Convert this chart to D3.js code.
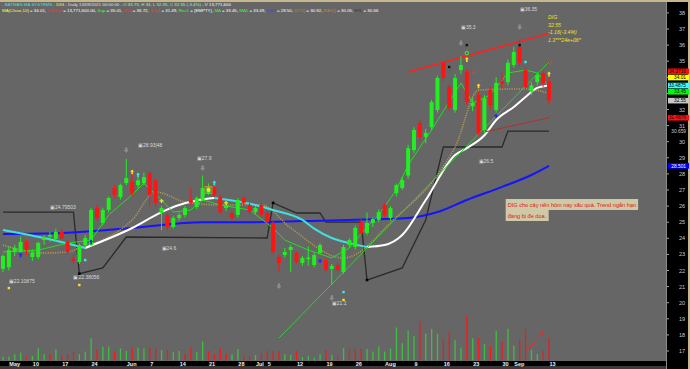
<!DOCTYPE html>
<html>
<head>
<meta charset="utf-8">
<script src="https://cdn.jsdelivr.net/npm/d3@7"></script>
<style>
  body { margin: 0; background: #000; }
  svg { display: block; font-family: "Liberation Sans", Arial, sans-serif; }
</style>
</head>
<body>
<svg id="chart" width="690" height="369"></svg>
<script>
// trading days shown on the chart (dd/mm, 2021)
const dates = ["29/04","04/05","05/05","06/05","07/05","10/05","11/05","12/05","13/05","14/05",
  "17/05","18/05","19/05","20/05","21/05","24/05","25/05","26/05","27/05","28/05","31/05",
  "01/06","02/06","03/06","04/06","07/06","08/06","09/06","10/06","11/06","14/06","15/06","16/06","17/06","18/06",
  "21/06","22/06","23/06","24/06","25/06","28/06","29/06","30/06",
  "01/07","02/07","05/07","06/07","07/07","08/07","09/07","12/07","13/07","14/07","15/07","16/07",
  "19/07","20/07","21/07","22/07","23/07","26/07","27/07","28/07","29/07","30/07",
  "02/08","03/08","04/08","05/08","06/08","09/08","10/08","11/08","12/08","13/08",
  "16/08","17/08","18/08","19/08","20/08","23/08","24/08","25/08","26/08","27/08","30/08","31/08",
  "01/09","06/09","07/09","08/09","09/09","10/09","13/09"];

const opens = [22.1,22.2,23.15,23.15,23.77,22.84,22.84,23.89,24.1,23.96,
  24.4,23.77,22.75,22.53,23.58,23.58,25.88,24.95,25.76,27.12,26.56,
  27.43,27.5,27.3,27.43,28.05,27.6,25.57,25.45,24.7,25.26,25.45,26.4,25.95,26.38,
  26.8,27.1,26.56,25.88,25.57,25.45,26.5,26.07,
  25.63,26.07,25.57,24.95,22.84,22.96,23.27,23.09,22.47,22.7,22.34,23.09,
  22.65,22.1,22.34,21.9,23.58,23.46,25.0,24.33,24.95,25.14,
  26.07,25.26,26.8,27.12,27.9,29.48,31.16,30.3,30.9,31.97,
  34.89,33.4,31.97,34.45,34.33,32.2,32.9,30.73,33.2,31.97,33.75,33.7,
  34.76,35.88,34.45,33.1,33.7,34.26,33.75];
const highs = [23.0,23.5,23.6,24.1,23.9,23.3,23.8,24.2,24.4,24.6,
  24.6,23.9,23.0,23.7,24.2,25.9,26.07,25.9,26.6,27.3,27.4,
  28.93,28.1,27.8,28.1,28.2,27.7,26.0,25.6,25.4,25.6,26.0,27.1,26.6,27.9,
  27.4,27.3,26.7,26.2,25.7,26.5,26.6,26.2,
  26.0,26.2,25.7,25.1,23.0,23.4,23.6,23.2,22.9,23.5,23.1,23.7,
  22.8,22.4,22.5,23.6,24.0,24.8,25.2,25.6,25.3,25.8,
  26.2,26.0,27.4,27.8,29.8,30.9,31.4,30.8,32.6,34.1,
  35.0,33.6,34.2,35.3,34.5,32.7,33.1,32.9,33.4,34.0,34.3,35.1,
  35.9,36.35,34.6,33.7,34.3,34.4,34.0];
const lows = [21.9,22.0,22.9,23.0,22.96,22.6,22.7,23.6,23.8,23.8,
  23.9,23.0,22.4,22.4,23.4,23.5,25.1,24.8,25.6,26.5,26.4,
  27.3,26.6,27.1,27.3,25.95,25.95,24.5,24.5,24.6,25.1,25.3,26.1,25.8,26.3,
  26.7,26.6,25.5,25.7,25.1,25.3,26.0,25.5,
  25.5,25.3,24.8,23.0,21.9,22.8,21.9,22.4,22.3,22.3,22.2,23.0,
  21.9,21.1,21.9,21.8,23.4,23.3,24.2,24.2,24.7,25.0,
  25.3,25.1,26.6,27.0,27.7,29.3,30.0,29.9,30.7,31.8,
  33.7,31.9,31.8,34.2,32.3,31.9,30.4,30.5,32.0,31.8,33.3,33.5,
  34.6,34.7,33.2,32.9,33.5,33.4,32.35];
const closes = [22.9,23.27,23.4,23.77,23.27,23.09,23.71,24.08,24.2,24.39,
  24.0,23.15,22.6,23.58,24.02,25.76,25.26,25.76,26.5,26.7,27.3,
  27.74,26.8,27.6,27.8,26.7,26.2,25.88,24.7,25.26,25.45,25.88,26.2,26.5,27.12,
  27.2,26.7,25.63,26.07,25.26,26.38,26.2,25.63,
  25.88,25.45,25.0,23.15,22.47,23.15,23.46,22.53,22.78,22.8,22.96,23.58,
  22.03,22.28,22.03,23.46,23.89,24.64,24.33,24.95,25.2,25.63,
  25.45,25.88,27.3,27.62,29.6,30.73,30.29,30.55,32.46,33.96,
  33.96,32.1,33.96,34.76,32.47,32.4,30.54,32.7,32.28,33.65,33.6,34.9,
  35.57,34.89,33.4,33.5,34.14,33.65,32.55];
// volume in millions of shares, and up(1)/down(0) colour of each volume bar
const volumes = [2.3,2.3,3.8,4.8,2.3,2.7,7.4,3.8,3.8,6.8,
  3.4,4.0,5.4,3.8,5.4,13.5,6.4,8.4,8.4,5.4,7.4,
  5.8,7.4,7.8,7.4,7.8,7.4,6.4,6.4,5.0,5.8,4.4,7.8,5.0,11.5,
  5.8,3.8,7.4,4.0,3.8,7.0,2.7,2.3,
  3.4,4.0,5.8,5.8,5.8,3.8,3.4,5.8,2.0,2.7,1.7,3.8,
  6.4,3.4,2.3,7.4,7.0,7.0,7.0,7.0,5.4,8.4,
  5.4,7.4,20.0,10.5,18.2,14.9,24,16.2,19.2,16.2,
  13.1,17.2,12.5,7.8,27,13.5,13.5,9.9,8.8,18.0,11.5,19.2,
  9.0,12.5,19.2,6.4,3.8,5.8,13.77];
const volUp = [1,1,1,1,0,1,1,1,0,1,
  0,0,0,1,1,1,0,1,1,0,1,
  1,0,1,1,0,0,1,0,1,1,0,0,1,1,
  0,0,0,0,1,1,0,0,
  1,0,0,0,0,1,1,0,1,1,1,1,
  0,1,0,1,0,0,0,1,1,1,
  1,1,1,1,1,1,0,1,1,1,
  0,0,1,1,0,1,0,1,0,1,0,1,
  1,0,0,1,1,0,0];

// indicator lines, [date, value]
const ma1 = [["29/04",24.52],["12/05",24.02],["21/05",23.4],["02/06",24.64],["09/06",25.63],["14/06",26.07],
  ["17/06",26.35],["22/06",26.5],["01/07",26.07],["06/07",25.76],["13/07",25.14],["15/07",24.6],["20/07",24.02],
  ["23/07",23.7],["28/07",23.46],["02/08",23.58],["05/08",24.2],["11/08",26.38],["18/08",29.17],["20/08",29.6],
  ["25/08",30.4],["27/08",31.35],["01/09",32.16],["07/09",32.78],["09/09",33.34],["13/09",33.49]];
const ma2 = [["29/04",24.27],["17/05",24.33],["02/06",24.64],["18/06",25.0],["30/06",25.0],["13/07",25.07],
  ["23/07",25.14],["06/08",25.26],["13/08",25.63],["20/08",26.38],["30/08",27.19],["08/09",27.93],["13/09",28.5]];
const ma = [["29/04",23.15],["11/05",23.27],["18/05",23.7],["24/05",23.89],["27/05",25.45],["02/06",26.7],
  ["04/06",27.43],["09/06",26.38],["11/06",25.63],["16/06",25.76],["18/06",26.38],["23/06",26.07],["30/06",25.76],
  ["06/07",24.64],["08/07",23.89],["14/07",23.27],["20/07",22.78],["23/07",23.4],["28/07",24.7],["30/07",25.45],
  ["04/08",27.0],["06/08",28.55],["12/08",30.73],["19/08",33.65],["23/08",32.4],["26/08",32.9],["31/08",34.27],
  ["07/09",34.45],["09/09",34.27],["13/09",33.45]];
const st2 = [["29/04",23.58],["12/05",23.09],["18/05",23.15],["20/05",23.4],["27/05",24.08],["02/06",25.14],
  ["08/06",26.88],["15/06",26.26],["23/06",26.07],["02/07",26.07],["09/07",24.64],["22/07",22.78],["04/08",25.32],
  ["13/08",27.93],["18/08",29.67],["24/08",33.2],["31/08",33.27],["07/09",33.27],["13/09",33.0]];
// trailing stop line and its pivot dots
const stl = [["29/04",25.63],["19/05",25.63],["20/05",21.8],["26/05",22.16],["01/06",24.08],["05/07",24.02],
  ["06/07",26.2],["12/07",25.57],["16/07",25.57],["19/07",25.0],["27/07",25.0],["28/07",21.41],["05/08",22.16],
  ["11/08",25.14],["16/08",29.67],["30/08",29.67],["31/08",30.66],["13/09",30.66]];
const stlDots = [["20/05",21.8],["06/07",26.2],["28/07",21.41]];
// trend lines drawn on the chart
const resLine = [["06/08",34.33],["13/09",36.72]];
const sup1Line = [["25/08",30.6],["13/09",31.49]];
const supLine = [["07/07",17.8],["13/09",34.95]];

// signal glyphs: [date, level, kind]
const signals = [["06/05",22.96,"upB"],["24/05",23.77,"upB"],["21/05",22.65,"sqC"],["04/05",20.91,"sqY"],["20/05",21.1,"sqY"],
  ["02/06",28.12,"upY"],["03/06",27.93,"upC"],["09/06",26.32,"plusY"],["21/06",27.0,"ringY"],["22/06",27.43,"upC"],
  ["24/06",26.2,"plusY"],["07/07",21.04,"dnG"],["16/07",22.59,"plusB"],["22/07",20.66,"sqC"],["22/07",20.17,"sqY"],
  ["20/07",20.3,"dnG"],["01/06",29.48,"dnG"],["18/06",28.37,"dnG"],["19/08",36.13,"dnG"],["20/08",36.0,"sqK"],
  ["20/08",35.5,"ringG"],["20/08",35.1,"upY"],["17/08",34.64,"sqK"],["23/08",34.33,"vR"],["24/08",33.46,"upY"],
  ["27/08",31.6,"plusB"],["06/09",37.12,"dnG"],["06/09",36.0,"sqK"],["07/09",34.95,"sqC"],["13/09",34.89,"vR"],
  ["13/09",34.2,"upY"]];

const tickDates = ["04/05","10/05","17/05","24/05","01/06","07/06","14/06","21/06","28/06","01/07","05/07",
  "12/07","19/07","26/07","02/08","09/08","16/08","23/08","30/08","01/09","13/09"];
const tickLabels = ["May","10","17","24","Jun","7","14","21","28","Jul","5",
  "12","19","26","Aug","9","16","23","30","Sep","13"];
const priceTicks = d3.range(17, 39);

// high / low tags written on the chart: [date, level, text]
const tags = [["06/09",38.1,"36.35"],["19/08",37.0,"35.3"],["03/06",29.67,"28.93|48"],["17/06",28.86,"27.9"],
  ["13/05",25.82,"24.79503"],["04/05",21.22,"22.10875"],["19/05",21.47,"22.38056"],["09/06",23.27,"24.6"],
  ["20/07",19.86,"21.1"],["24/08",28.68,"26.5"]];

// last values shown on the price axis
const axisTags = [
  {v: 34.37, t: "34.3716", bg: "#ff1010", fg: "#200"},
  {v: 34.01, t: "34.01", bg: "#ffff00", fg: "#000"},
  {v: 33.4875, t: "33.4875", bg: "#33ffff", fg: "#000"},
  {v: 33.45, t: "33.45", bg: "#00ff00", fg: "#000"},
  {v: 32.55, t: "32.55", bg: "#c8c8c8", fg: "#000"},
  {v: 31.4876, t: "31.4876", bg: "#ff1010", fg: "#200"},
  {v: 30.659, t: "30.659", bg: null, fg: "#ccc"},
  {v: 28.501, t: "28.501", bg: "#0000ff", fg: "#fff"}
];

const header1 = [["- BATMAN MA SYSTEMS - ", "#40e0e0"], ["DIG", "#ffff40"], [" - Daily 13/09/2021 00:00:00 - ", "#e0e0e0"],
  ["O 33.75, H 34, L 32.35, C 32.55 (-3.4%)", "#80ffc0"], [" - V 13,771,600", "#ffffff"]];
const header2 = [["MA(Close,10)", "#ffff40"], [" = 34.01, ", "#fff"], ["Volume", "#ff3030"], [" = 13,771,600.00, ", "#fff"],
  ["Sup", "#30ff30"], [" = 35.01, ", "#fff"], ["Res", "#ff3030"], [" = 36.72, ", "#fff"], ["Sup1", "#ff3030"],
  [" = 31.49, ", "#fff"], ["Res1", "#30ff30"], [" = {EMPTY}, ", "#fff"], ["MA", "#30ff30"], [" = 33.45, ", "#fff"],
  ["MA1", "#30ff30"], [" = 33.49, ", "#fff"], ["MA2", "#4040ff"], [" = 28.50, ", "#fff"], ["ST2()", "#c08040"],
  [" = 30.92, ", "#fff"], ["MAX()", "#c08040"], [" = 30.05, ", "#fff"], ["STL", "#303030"], [" = 30.66", "#fff"]];

const note = ["DIG cho cây nến hôm nay xấu quá. Trend ngắn hạn", "đang bị đe dọa."];
const quote = ["DIG", "32.55", "-1.16(-3.4%)", "1.3***24e+06*"];

const svg = d3.select("#chart");
const W = 690, H = 369;
const plotR = 666, plotB = 361;

const x = d3.scalePoint().domain(dates).range([3, 549]);
const y = d3.scaleLinear().domain([17, 38]).range([351, 12.9]);
const yv = d3.scaleLinear().domain([0, 27]).range([360.5, 316]);

const bars = dates.map((d, i) => ({d: d, o: opens[i], h: highs[i], l: lows[i], c: closes[i], v: volumes[i], up: volUp[i]}));

// frame
svg.append("rect").attr("width", W).attr("height", H).attr("fill", "#3a3a3a");
svg.append("rect").attr("x", 0).attr("y", 2).attr("width", plotR).attr("height", plotB - 2).attr("fill", "#666666");
svg.append("rect").attr("x", plotR + 1).attr("y", 2).attr("width", W - plotR - 3).attr("height", H - 2).attr("fill", "#000");
svg.append("rect").attr("x", 0).attr("y", plotB).attr("width", plotR + 1).attr("height", 5).attr("fill", "#000");
svg.append("rect").attr("x", 0).attr("y", 0).attr("width", W).attr("height", 2).attr("fill", "#c7b78e");
svg.append("rect").attr("x", W - 2).attr("y", 0).attr("width", 2).attr("height", H).attr("fill", "#c7b78e");
svg.append("line").attr("x1", plotR + 0.5).attr("x2", plotR + 0.5).attr("y1", 2).attr("y2", H)
  .attr("stroke", "#8a8a8a").attr("stroke-width", 1);

const plot = svg.append("g");

// volume
plot.selectAll(".vol").data(bars).join("rect")
  .attr("x", d => x(d.d) - 0.6).attr("width", 1.3)
  .attr("y", d => yv(d.v)).attr("height", d => yv(0) - yv(d.v))
  .attr("fill", d => d.up ? "#3fbf3f" : "#ee1c1c");

const lineGen = d3.line().x(p => x(p[0])).y(p => y(p[1])).curve(d3.curveMonotoneX);
const straight = d3.line().x(p => x(p[0])).y(p => y(p[1]));

// trailing stop
plot.append("path").datum(stl).attr("d", straight)
  .attr("fill", "none").attr("stroke", "#2a2a2a").attr("stroke-width", 1.3);
plot.selectAll(".sd").data(stlDots).join("rect")
  .attr("x", p => x(p[0]) - 1.3).attr("y", p => y(p[1]) - 1.3).attr("width", 2.6).attr("height", 2.6).attr("fill", "#000");

// blue MA2
plot.append("path").datum(ma2).attr("d", lineGen)
  .attr("fill", "none").attr("stroke", "#1414ff").attr("stroke-width", 2);

// dotted ST2
plot.append("path").datum(st2).attr("d", lineGen)
  .attr("fill", "none").attr("stroke", "#b09850").attr("stroke-width", 1.6).attr("stroke-dasharray", "1.2,1.2");

// MA1 : white while rising, cyan while falling
const runs = [];
for (let i = 1; i < ma1.length; i++) {
  const col = ma1[i][1] >= ma1[i - 1][1] ? "#ffffff" : "#40e0e0";
  if (runs.length && runs[runs.length - 1].col === col) runs[runs.length - 1].pts.push(ma1[i]);
  else runs.push({col: col, pts: [ma1[i - 1], ma1[i]]});
}
runs.forEach(r => plot.append("path").datum(r.pts).attr("d", lineGen)
  .attr("fill", "none").attr("stroke", r.col).attr("stroke-width", 2));

// green MA
plot.append("path").datum(ma).attr("d", straight)
  .attr("fill", "none").attr("stroke", "#22dd22").attr("stroke-width", 1);

// trend lines
plot.append("path").datum(supLine).attr("d", straight).attr("stroke", "#33cc33").attr("stroke-width", 1).attr("fill", "none");
plot.append("path").datum(resLine).attr("d", straight).attr("stroke", "#ff2020").attr("stroke-width", 1.6).attr("fill", "none");
plot.append("path").datum(sup1Line).attr("d", straight).attr("stroke", "#b03030").attr("stroke-width", 1).attr("fill", "none");

// candles
const cg = plot.selectAll(".c").data(bars).join("g");
cg.append("line").attr("x1", d => x(d.d)).attr("x2", d => x(d.d))
  .attr("y1", d => y(d.h)).attr("y2", d => y(d.l))
  .attr("stroke", d => d.c >= d.o ? "#22ee22" : "#ff1414").attr("stroke-width", 1);
cg.append("rect").attr("x", d => x(d.d) - 2).attr("width", 4)
  .attr("y", d => y(Math.max(d.o, d.c)))
  .attr("height", d => Math.max(1, Math.abs(y(d.o) - y(d.c))))
  .attr("fill", d => d.c >= d.o ? "#22ee22" : "#ff1414");

// signal glyphs
const sg = plot.append("g");
signals.forEach(s => {
  const cx = x(s[0]), cy = y(s[1]);
  const k = s[2];
  const upCol = {upY: "#ffe020", upC: "#40e8e8", upB: "#2020ff"};
  if (upCol[k]) {
    sg.append("path").attr("d", `M${cx},${cy - 2.5} l2,2.2 h-1.2 v2.6 h-1.6 v-2.6 h-1.2 z`).attr("fill", upCol[k]);
  } else if (k === "dnG") {
    sg.append("path").attr("d", `M${cx},${cy + 2.5} l-2,-2.2 h1.2 v-2.6 h1.6 v2.6 h1.2 z`)
      .attr("fill", "#8c8c8c").attr("stroke", "#b0b0b0").attr("stroke-width", 0.3);
  } else if (k === "plusY" || k === "plusB") {
    const c = k === "plusY" ? "#ffe020" : "#2020ff";
    sg.append("path").attr("d", `M${cx - 2},${cy} h4 M${cx},${cy - 2} v4`).attr("stroke", c).attr("stroke-width", 1.2);
  } else if (k.startsWith("sq")) {
    const c = {sqY: "#ffe020", sqC: "#40e8e8", sqK: "#111"}[k];
    sg.append("rect").attr("x", cx - 1.2).attr("y", cy - 1.2).attr("width", 2.4).attr("height", 2.4).attr("fill", c);
  } else if (k === "vR") {
    sg.append("text").attr("x", cx).attr("y", cy + 2).attr("text-anchor", "middle")
      .attr("font-size", 5.5).attr("fill", "#ff2020").text("V");
  } else if (k === "ringG") {
    sg.append("circle").attr("cx", cx).attr("cy", cy).attr("r", 1.8).attr("fill", "none").attr("stroke", "#30ff30").attr("stroke-width", 1);
  } else if (k === "ringY") {
    sg.append("rect").attr("x", cx - 3.5).attr("y", cy - 3.5).attr("width", 7).attr("height", 7)
      .attr("fill", "none").attr("stroke", "#d89030").attr("stroke-width", 0.8);
    sg.append("circle").attr("cx", cx).attr("cy", cy).attr("r", 2).attr("fill", "#ffe020");
  }
});

// high/low tags
tags.forEach(t => {
  plot.append("text").attr("x", x(t[0])).attr("y", y(t[1]))
    .attr("font-size", 5).attr("fill", "#d8d8d8").text("\u25A3" + t[2]);
});

// price axis; value tags are stacked so they do not overlap
const tagPos = axisTags.map(t => ({...t, py: y(t.v)})).sort((a, b) => a.py - b.py);
for (let i = 1; i < tagPos.length; i++) if (tagPos[i].py - tagPos[i - 1].py < 6.2) tagPos[i].py = tagPos[i - 1].py + 6.2;
const ax = svg.append("g");
priceTicks.forEach(v => {
  ax.append("line").attr("x1", plotR + 1).attr("x2", plotR + 3).attr("y1", y(v)).attr("y2", y(v)).attr("stroke", "#aaa");
  if (tagPos.some(t => Math.abs(t.py - y(v)) < 5)) return;
  ax.append("text").attr("x", 685).attr("y", y(v) + 2).attr("text-anchor", "end")
    .attr("font-size", 5.5).attr("fill", "#c8c8c8").text(v);
});
tagPos.forEach(t => {
  if (t.bg) ax.append("rect").attr("x", plotR + 2).attr("y", t.py - 2.8).attr("width", 21).attr("height", 5.6).attr("fill", t.bg);
  ax.append("text").attr("x", 686).attr("y", t.py + 1.7).attr("text-anchor", "end")
    .attr("font-size", 4.8).attr("fill", t.fg).text(t.t);
});

// date axis
tickDates.forEach((d, i) => {
  svg.append("text").attr("x", x(d) + 0.5).attr("y", plotB + 4.6)
    .attr("font-size", 5.5).attr("font-weight", "bold").attr("fill", "#f0f0f0").text(tickLabels[i]);
});

// header
function row(parts, yy, size) {
  const t = svg.append("text").attr("x", 2).attr("y", yy).attr("font-size", size);
  parts.forEach(p => t.append("tspan").attr("fill", p[1]).text(p[0]));
}
row(header1, 6.2, 4.4);
row(header2, 11.6, 4.4);

// quote block, top right
quote.forEach((q, i) => {
  svg.append("text").attr("x", x("13/09") - 1).attr("y", 19 + i * 7.6)
    .attr("font-size", 5.2).attr("font-style", "italic").attr("fill", "#f0e020").text(q);
});

// comment box
const nb = svg.append("g");
note.forEach((n, i) => {
  const t = nb.append("text").attr("x", x("23/08") + 35).attr("y", 207 + i * 11)
    .attr("font-size", 5.6).attr("fill", "#e01818").text(n);
  const bb = t.node().getBBox();
  nb.insert("rect", "text").attr("x", bb.x - 2).attr("y", 199 + i * 11).attr("width", bb.width + 4).attr("height", 11)
    .attr("fill", "#cfc9a6");
});

// red arrow on the volume pane
const arr = [["07/09", 4.9], ["10/09", 17.3]];
plot.append("path").datum(arr).attr("d", d3.line().x(p => x(p[0])).y(p => yv(p[1])))
  .attr("stroke", "#ff2020").attr("stroke-width", 1).attr("fill", "none");
const tip = [x(arr[1][0]), yv(arr[1][1])];
plot.append("path").attr("d", `M${tip[0]},${tip[1]} l-3.5,1 l2.2,2.6 z`).attr("fill", "#ff2020");
</script>
</body>
</html>
